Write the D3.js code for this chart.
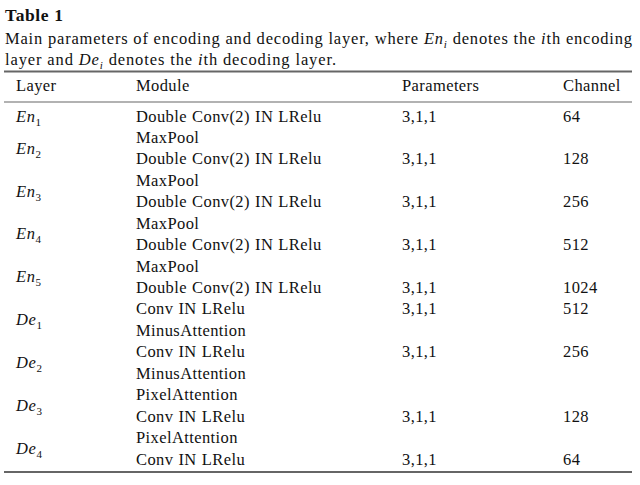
<!DOCTYPE html>
<html>
<head>
<meta charset="utf-8">
<script src="https://cdn.jsdelivr.net/npm/d3@7"></script>
<style>
  body { margin: 0; background: #fff; }
  text { font-family: "Liberation Serif", serif; fill: #111; }
</style>
</head>
<body>
<svg width="640" height="485"></svg>
<script>
// table content
const title = 'Table 1';
const columns = ['Layer', 'Module', 'Parameters', 'Channel'];
const layerNames = [
  ['En', '1'], ['En', '2'], ['En', '3'], ['En', '4'], ['En', '5'],
  ['De', '1'], ['De', '2'], ['De', '3'], ['De', '4']
];
const modules = [
  ['Double Conv(2) IN LRelu'],
  ['MaxPool', 'Double Conv(2) IN LRelu'],
  ['MaxPool', 'Double Conv(2) IN LRelu'],
  ['MaxPool', 'Double Conv(2) IN LRelu'],
  ['MaxPool', 'Double Conv(2) IN LRelu'],
  ['Conv IN LRelu', 'MinusAttention'],
  ['Conv IN LRelu', 'MinusAttention'],
  ['PixelAttention', 'Conv IN LRelu'],
  ['PixelAttention', 'Conv IN LRelu']
];
const params = ['3,1,1', '3,1,1', '3,1,1', '3,1,1', '3,1,1', '3,1,1', '3,1,1', '3,1,1', '3,1,1'];
const channels = ['64', '128', '256', '512', '1024', '512', '256', '128', '64'];

let svg = d3.select('svg');

// flatten to text lines
let lines = [];
let groups = [];
modules.forEach((mods, i) => {
  let first = lines.length;
  mods.forEach((m, j) => {
    lines.push({ layer: i, text: m, conv: /Conv/.test(m) });
  });
  groups.push({ name: layerNames[i], first: first, last: lines.length - 1 });
});

let x = d3.scaleOrdinal().domain(columns).range([16, 136, 402, 563]);
let y = d3.scaleLinear().domain([0, lines.length - 1]).range([121.5, 464.5]);

// title + caption
svg.append('text')
  .attr('x', 5).attr('y', 21)
  .attr('font-size', 17.5).attr('font-weight', 'bold')
  .attr('letter-spacing', 0.6)
  .text(title);

let cap1 = svg.append('text').attr('x', 5).attr('y', 44).attr('font-size', 16.5)
  .attr('textLength', 627).attr('lengthAdjust', 'spacing');
cap1.append('tspan').text('Main parameters of encoding and decoding layer, where ');
cap1.append('tspan').attr('font-style', 'italic').text('En');
cap1.append('tspan').attr('font-style', 'italic').attr('font-size', 11).attr('dy', 4).text('i');
cap1.append('tspan').attr('dy', -4).text(' denotes the ');
cap1.append('tspan').attr('font-style', 'italic').text('i');
cap1.append('tspan').text('th encoding');

let cap2 = svg.append('text').attr('x', 5).attr('y', 64.5).attr('font-size', 16.5)
  .attr('textLength', 331).attr('lengthAdjust', 'spacing');
cap2.append('tspan').text('layer and ');
cap2.append('tspan').attr('font-style', 'italic').text('De');
cap2.append('tspan').attr('font-style', 'italic').attr('font-size', 11).attr('dy', 4).text('i');
cap2.append('tspan').attr('dy', -4).text(' denotes the ');
cap2.append('tspan').attr('font-style', 'italic').text('i');
cap2.append('tspan').text('th decoding layer.');

// rules
let rule = (yy, w) => svg.append('line')
  .attr('x1', 4).attr('x2', 632).attr('y1', yy).attr('y2', yy)
  .attr('stroke', '#666').attr('stroke-width', w);
rule(71.5, 2);
rule(102, 1.2);
rule(472, 1.8);

// header
svg.append('g').selectAll('text')
  .data(columns)
  .join('text')
  .attr('x', d => x(d))
  .attr('y', 90.5)
  .attr('font-size', 16.5)
  .attr('letter-spacing', 0.4)
  .text(d => d);

// module lines
svg.append('g').selectAll('text')
  .data(lines)
  .join('text')
  .attr('x', x('Module'))
  .attr('y', (d, i) => y(i))
  .attr('font-size', 16.5)
  .attr('letter-spacing', 0.4)
  .attr('word-spacing', 0.6)
  .text(d => d.text);

// parameters and channels on the conv line of each layer
let convLines = lines.map((d, i) => ({ ...d, idx: i })).filter(d => d.conv);

svg.append('g').selectAll('text')
  .data(convLines)
  .join('text')
  .attr('x', x('Parameters'))
  .attr('y', d => y(d.idx))
  .attr('font-size', 16.5)
  .attr('letter-spacing', 0.4)
  .text(d => params[d.layer]);

svg.append('g').selectAll('text')
  .data(convLines)
  .join('text')
  .attr('x', x('Channel'))
  .attr('y', d => y(d.idx))
  .attr('font-size', 16.5)
  .attr('letter-spacing', 0.4)
  .text(d => channels[d.layer]);

// layer names centred on their group
let lt = svg.append('g').selectAll('text')
  .data(groups)
  .join('text')
  .attr('x', x('Layer'))
  .attr('y', d => (y(d.first) + y(d.last)) / 2)
  .attr('font-size', 16.5);
lt.append('tspan').attr('font-style', 'italic').attr('letter-spacing', 0.6).text(d => d.name[0]);
lt.append('tspan').attr('font-size', 11).attr('dy', 4).text(d => d.name[1]);
</script>
</body>
</html>
